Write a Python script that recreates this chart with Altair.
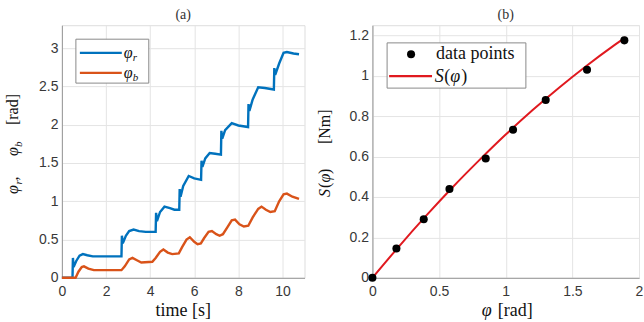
import altair as alt
import pandas as pd

# ---- panel (a): joint angles over time ----
t_r = [0, 0.48, 0.50, 0.53, 0.65, 0.80, 0.95, 1.15, 1.40, 2.70, 2.72, 2.76, 2.90, 3.05, 3.25,
       3.50, 3.80, 4.25, 4.27, 4.31, 4.45, 4.65, 4.90, 5.10, 5.32, 5.34, 5.38, 5.50, 5.75,
       6.00, 6.31, 6.33, 6.37, 6.50, 6.70, 6.95, 7.21, 7.23, 7.27, 7.40, 7.70, 8.00, 8.44,
       8.46, 8.50, 8.65, 8.90, 9.20, 9.61, 9.63, 9.67, 9.85, 10.05, 10.20, 10.50, 10.75]
phi_r = [0, 0, 0.26, 0.14, 0.22, 0.29, 0.31, 0.295, 0.28, 0.28, 0.55, 0.45, 0.55, 0.61, 0.63,
         0.61, 0.60, 0.60, 0.85, 0.74, 0.86, 0.93, 0.91, 0.89, 0.89, 1.16, 1.06, 1.20, 1.33,
         1.30, 1.28, 1.53, 1.45, 1.56, 1.63, 1.62, 1.61, 1.92, 1.82, 1.93, 2.02, 1.99, 1.97,
         2.27, 2.18, 2.33, 2.49, 2.48, 2.46, 2.74, 2.65, 2.80, 2.94, 2.95, 2.93, 2.92]

t_b = [0, 0.62, 0.75, 0.90, 1.00, 1.20, 1.45, 1.80, 2.70, 2.85, 3.05, 3.20, 3.40, 3.60, 4.10,
       4.25, 4.45, 4.60, 4.80, 5.00, 5.30, 5.45, 5.65, 5.80, 6.00, 6.15, 6.30, 6.45, 6.65,
       6.80, 7.00, 7.15, 7.30, 7.50, 7.70, 7.85, 8.05, 8.25, 8.45, 8.65, 8.90, 9.05, 9.25,
       9.45, 9.65, 9.85, 10.05, 10.20, 10.45, 10.75]
phi_b = [0, 0, 0.08, 0.14, 0.15, 0.12, 0.10, 0.10, 0.10, 0.15, 0.24, 0.26, 0.23, 0.20, 0.21,
         0.26, 0.34, 0.37, 0.33, 0.31, 0.32, 0.40, 0.50, 0.53, 0.47, 0.44, 0.45, 0.52, 0.60,
         0.61, 0.57, 0.55, 0.57, 0.66, 0.75, 0.76, 0.70, 0.67, 0.68, 0.79, 0.90, 0.93, 0.89,
         0.86, 0.87, 1.00, 1.09, 1.10, 1.06, 1.03]

# ---- panel (b): stiffness characteristic ----
phi_data = [0, 0.18, 0.385, 0.578, 0.85, 1.055, 1.30, 1.61, 1.89]
S_data = [0, 0.145, 0.29, 0.44, 0.59, 0.733, 0.88, 1.03, 1.175]
phi_fit = [0, 0.2, 0.4, 0.6, 0.8, 1.0, 1.2, 1.4, 1.6, 1.8, 1.9]
S_fit = [0, 0.156, 0.305, 0.447, 0.581, 0.709, 0.829, 0.941, 1.046, 1.144, 1.19]

SERIF = "Liberation Serif"
SANS = "Liberation Sans"
BLUE = "#0072BD"
ORANGE = "#D95319"
RED = "#E0191F"
FRAME = "#9a9a9a"

one = pd.DataFrame({"k": [0]})


def txt(s, x, y, size=17, italic=False, angle=0, align="left", baseline="alphabetic"):
    kw = dict(text=s, font=SERIF, fontSize=size, color="#111111",
              align=align, baseline=baseline, angle=angle)
    if italic:
        kw["fontStyle"] = "italic"
    return alt.Chart(one).mark_text(**kw).encode(x=alt.value(x), y=alt.value(y))


def box(x1, x2, y1, y2):
    return alt.Chart(one).mark_rect(fill="white", stroke="#8a8a8a", strokeWidth=1).encode(
        x=alt.value(x1), x2=alt.value(x2), y=alt.value(y1), y2=alt.value(y2))


def seg(x1, x2, y, color):
    return alt.Chart(one).mark_rule(color=color, strokeWidth=2.2).encode(
        x=alt.value(x1), x2=alt.value(x2), y=alt.value(y))


axis_common = dict(grid=True, gridColor="#e4e4e4", gridWidth=1, ticks=False,
                   domainColor=FRAME, labelFont=SANS, labelFontSize=14, labelFlush=False,
                   labelColor="#383838", title=None, format="~f")

# panel (a)
df_a = pd.concat([
    pd.DataFrame({"t": t_r, "v": phi_r, "s": "r"}),
    pd.DataFrame({"t": t_b, "v": phi_b, "s": "b"}),
])
W1, H = 243, 253
lines_a = alt.Chart(df_a).mark_line(strokeWidth=2.4).encode(
    x=alt.X("t:Q", scale=alt.Scale(domain=[0, 11], nice=False),
            axis=alt.Axis(values=[0, 2, 4, 6, 8, 10], labelPadding=7, **axis_common)),
    y=alt.Y("v:Q", scale=alt.Scale(domain=[0, 3.3], nice=False),
            axis=alt.Axis(values=[0, 0.5, 1, 1.5, 2, 2.5, 3], labelPadding=4, **axis_common)),
    color=alt.Color("s:N", scale=alt.Scale(domain=["r", "b"], range=[BLUE, ORANGE]), legend=None),
    order=alt.Order("t:Q"),
)
panel_a = alt.layer(
    lines_a,
    box(14, 87, 14, 58),
    seg(18, 60, 27.7, BLUE),
    seg(18, 60, 47.7, ORANGE),
    txt("φ", 62, 33, size=16, italic=True),
    txt("r", 71, 36, size=11, italic=True),
    txt("φ", 62, 53, size=16, italic=True),
    txt("b", 71, 56, size=11, italic=True),
    # rotated y title: φr, φb [rad]
    txt("φ", -44, 169, size=16, angle=270, italic=True),
    txt("r", -40, 159.5, size=11, angle=270, italic=True),
    txt(",", -44, 155.5, size=16, angle=270),
    txt("φ", -44, 131, size=16, angle=270, italic=True),
    txt("b", -40, 122, size=11, angle=270, italic=True),
    txt("[rad]", -44, 100, size=16, angle=270),
    txt("time [s]", W1 / 2, H + 38, size=18, align="center"),
).properties(
    width=W1, height=H,
    title=alt.TitleParams("(a)", font=SERIF, fontSize=14, fontWeight="normal",
                          color="#333333", offset=3),
)

# panel (b)
df_pts = pd.DataFrame({"p": phi_data, "S": S_data})
df_fit = pd.DataFrame({"p": phi_fit, "S": S_fit})
W2 = 267
xb = alt.X("p:Q", scale=alt.Scale(domain=[0, 2], nice=False),
           axis=alt.Axis(values=[0, 0.5, 1, 1.5, 2], labelPadding=7, **axis_common))
yb = alt.Y("S:Q", scale=alt.Scale(domain=[0, 1.25], nice=False),
           axis=alt.Axis(values=[0, 0.2, 0.4, 0.6, 0.8, 1, 1.2], labelPadding=4, **axis_common))
fit_line = alt.Chart(df_fit).mark_line(color=RED, strokeWidth=2, interpolate="monotone").encode(x=xb, y=yb)
pts = alt.Chart(df_pts).mark_circle(color="black", size=65, opacity=1).encode(x="p:Q", y="S:Q")
panel_b = alt.layer(
    fit_line, pts,
    box(14.7, 153.7, 17.7, 63),
    alt.Chart(one).mark_circle(color="black", size=65, opacity=1).encode(
        x=alt.value(38.7), y=alt.value(29)),
    txt("data points", 63.7, 34, size=18),
    seg(16.7, 59.7, 51, RED),
    txt("S", 62.5, 57, size=18, italic=True),
    txt("(", 72, 57, size=18),
    txt("φ", 78, 57, size=18, italic=True),
    txt(")", 89, 57, size=18),
    # rotated y title: S(φ) [Nm]
    txt("S", -42, 172, size=16, angle=270, italic=True),
    txt("(", -42, 163, size=16, angle=270),
    txt("φ", -42, 157.5, size=16, angle=270, italic=True),
    txt(")", -42, 149, size=16, angle=270),
    txt("[Nm]", -42, 119, size=16, angle=270),
    txt("φ", W2 / 2 - 24, H + 38, size=18, italic=True),
    txt("[rad]", W2 / 2 - 8, H + 38, size=18),
).properties(
    width=W2, height=H,
    title=alt.TitleParams("(b)", font=SERIF, fontSize=14, fontWeight="normal",
                          color="#333333", offset=3),
)

chart = alt.hconcat(panel_a, panel_b, spacing=11).properties(
    padding={"left": 4, "right": 0, "top": 7, "bottom": 0}
).configure_view(stroke=FRAME, strokeWidth=1).configure(background="white")

chart.save("out.html", embed_options={"renderer": "svg", "actions": False})
